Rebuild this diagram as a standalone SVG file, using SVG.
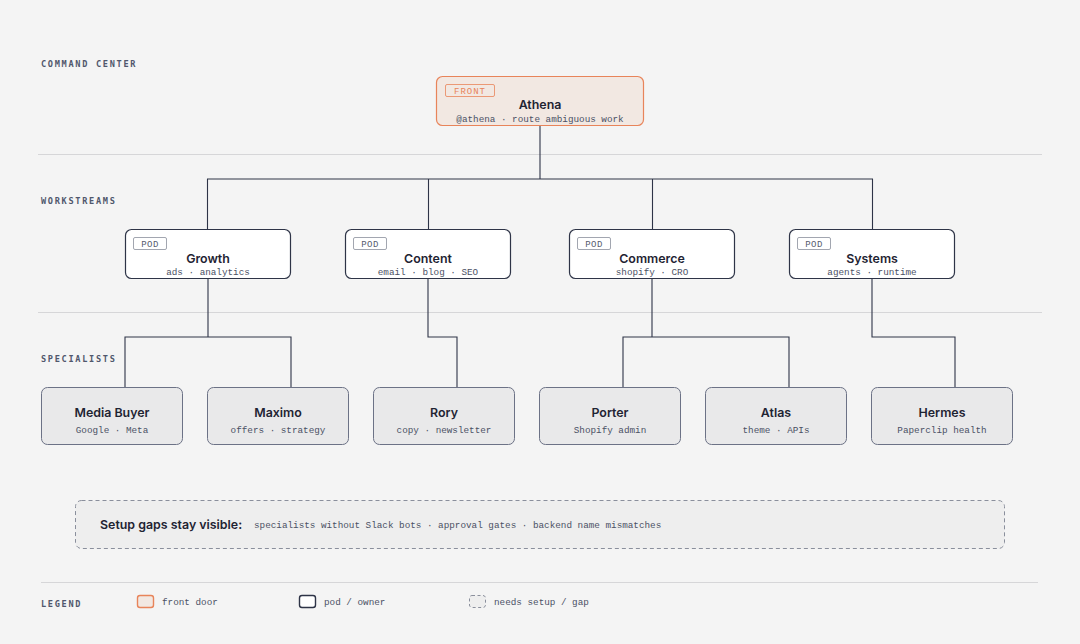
<svg xmlns="http://www.w3.org/2000/svg" width="1080" height="644" viewBox="0 0 1080 644">
<style>
.bg{fill:#f4f4f4}
.div{stroke:#d6d6d8;stroke-width:1}
.sec{font-family:"DejaVu Sans Mono","Liberation Mono",monospace;font-size:8.6px;letter-spacing:1.7px;fill:#50576c;font-weight:bold}
.title{font-family:Inter,"Liberation Sans",sans-serif;font-weight:600;font-size:12.4px;fill:#1f2433;text-anchor:middle}
.sub{font-family:"Liberation Mono","DejaVu Sans Mono",monospace;font-size:9.3px;fill:#4b5165;text-anchor:middle}
.pod rect.box{fill:#ffffff;stroke:#2e3447;stroke-width:1.2}
.tag{fill:none;stroke:#8a8f9c;stroke-width:0.8}
.tagt{font-family:"Liberation Mono","DejaVu Sans Mono",monospace;font-size:9px;fill:#555b6d;text-anchor:middle;letter-spacing:0.5px}
.spec rect{fill:#e9e9ea;stroke:#6c7286;stroke-width:1}
.conn path{fill:none;stroke:#2e3447;stroke-width:1.1}
.leg{font-family:"Liberation Mono","DejaVu Sans Mono",monospace;font-size:9.3px;fill:#4b5165}
</style>
<rect class="bg" x="0" y="0" width="1080" height="644"/>
<line class="div" x1="38" y1="154.5" x2="1042" y2="154.5"/>
<line class="div" x1="38" y1="312.5" x2="1042" y2="312.5"/>
<line class="div" x1="41" y1="582.5" x2="1038" y2="582.5"/>
<text class="sec" x="41" y="67">COMMAND CENTER</text>
<text class="sec" x="41" y="204">WORKSTREAMS</text>
<text class="sec" x="41" y="362">SPECIALISTS</text>
<g class="conn" id="connectors">
<path d="M540 125 V179 M207.5 229 V179 H872.5 V229 M428.5 179 V229 M652.5 179 V229"/>
<path d="M208 278 V337 M125 387 V337 H291 V387"/>
<path d="M428 278 V337 H457 V387"/>
<path d="M652 278 V337 M623 387 V337 H789 V387"/>
<path d="M872 278 V337 H955 V387"/>
</g>
<g id="athena">
<rect x="436.5" y="76.5" width="207" height="49" rx="6" fill="#f2e8e2" stroke="#e8845a" stroke-width="1.2"/>
<rect x="445.5" y="84.5" width="49" height="12" rx="1.5" fill="none" stroke="#e8845a" stroke-width="0.8"/>
<text x="470" y="93.5" class="tagt" style="fill:#e8845a;letter-spacing:1px">FRONT</text>
<text class="title" x="540" y="109">Athena</text>
<text class="sub" x="540" y="121.5">@athena · route ambiguous work</text>
</g>
<g id="growth" class="pod">
<rect class="box" x="125.5" y="229.5" width="165" height="49" rx="6"/>
<rect class="tag" x="133.5" y="237.5" width="33" height="12" rx="1.5"/>
<text class="tagt" x="150" y="246.5">POD</text>
<text class="title" x="208" y="263">Growth</text>
<text class="sub" x="208" y="275">ads · analytics</text>
</g>
<g id="content" class="pod">
<rect class="box" x="345.5" y="229.5" width="165" height="49" rx="6"/>
<rect class="tag" x="353.5" y="237.5" width="33" height="12" rx="1.5"/>
<text class="tagt" x="370" y="246.5">POD</text>
<text class="title" x="428" y="263">Content</text>
<text class="sub" x="428" y="275">email · blog · SEO</text>
</g>
<g id="commerce" class="pod">
<rect class="box" x="569.5" y="229.5" width="165" height="49" rx="6"/>
<rect class="tag" x="577.5" y="237.5" width="33" height="12" rx="1.5"/>
<text class="tagt" x="594" y="246.5">POD</text>
<text class="title" x="652" y="263">Commerce</text>
<text class="sub" x="652" y="275">shopify · CRO</text>
</g>
<g id="systems" class="pod">
<rect class="box" x="789.5" y="229.5" width="165" height="49" rx="6"/>
<rect class="tag" x="797.5" y="237.5" width="33" height="12" rx="1.5"/>
<text class="tagt" x="814" y="246.5">POD</text>
<text class="title" x="872" y="263">Systems</text>
<text class="sub" x="872" y="275">agents · runtime</text>
</g>
<g id="media-buyer" class="spec">
<rect x="41.5" y="387.5" width="141" height="57" rx="6"/>
<text class="title" x="112" y="416.5">Media Buyer</text>
<text class="sub" x="112" y="433">Google · Meta</text>
</g>
<g id="maximo" class="spec">
<rect x="207.5" y="387.5" width="141" height="57" rx="6"/>
<text class="title" x="278" y="416.5">Maximo</text>
<text class="sub" x="278" y="433">offers · strategy</text>
</g>
<g id="rory" class="spec">
<rect x="373.5" y="387.5" width="141" height="57" rx="6"/>
<text class="title" x="444" y="416.5">Rory</text>
<text class="sub" x="444" y="433">copy · newsletter</text>
</g>
<g id="porter" class="spec">
<rect x="539.5" y="387.5" width="141" height="57" rx="6"/>
<text class="title" x="610" y="416.5">Porter</text>
<text class="sub" x="610" y="433">Shopify admin</text>
</g>
<g id="atlas" class="spec">
<rect x="705.5" y="387.5" width="141" height="57" rx="6"/>
<text class="title" x="776" y="416.5">Atlas</text>
<text class="sub" x="776" y="433">theme · APIs</text>
</g>
<g id="hermes" class="spec">
<rect x="871.5" y="387.5" width="141" height="57" rx="6"/>
<text class="title" x="942" y="416.5">Hermes</text>
<text class="sub" x="942" y="433">Paperclip health</text>
</g>
<g id="gaps">
<rect x="75.5" y="500.5" width="929" height="48" rx="6" fill="#eeeeee" stroke="#8a8f9c" stroke-width="1" stroke-dasharray="4 3"/>
<text x="100" y="529" style="font-family:Inter,'Liberation Sans',sans-serif;font-weight:600;font-size:12.4px;fill:#1f2433">Setup gaps stay visible:</text>
<text x="254" y="528" class="leg">specialists without Slack bots · approval gates · backend name mismatches</text>
</g>
<g id="legend">
<text class="sec" x="41" y="607">LEGEND</text>
<rect x="137.5" y="595.5" width="16" height="12" rx="2.5" fill="#f2e8e2" stroke="#e8845a" stroke-width="1.4"/>
<text class="leg" x="162" y="605">front door</text>
<rect x="299.5" y="595.5" width="16" height="12" rx="2.5" fill="#ffffff" stroke="#2e3447" stroke-width="1.4"/>
<text class="leg" x="324" y="605">pod / owner</text>
<rect x="469.5" y="595.5" width="16" height="12" rx="2.5" fill="#eeeeee" stroke="#8a8f9c" stroke-width="1" stroke-dasharray="3 2.5"/>
<text class="leg" x="494" y="605">needs setup / gap</text>
</g>
</svg>
